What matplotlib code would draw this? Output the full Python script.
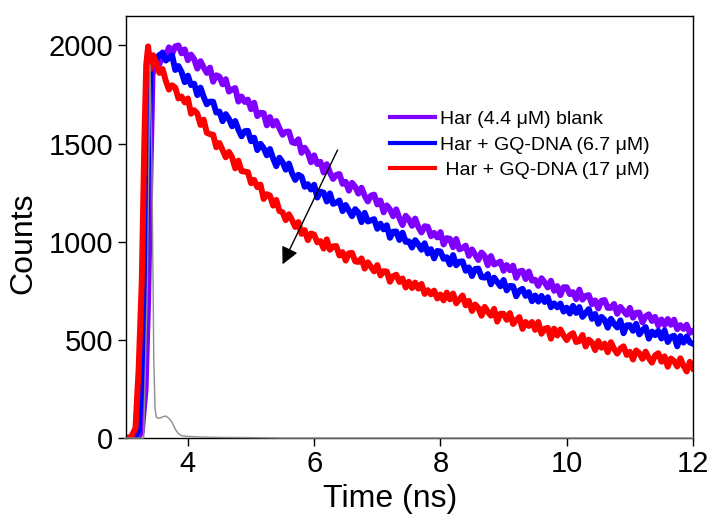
import numpy as np
import matplotlib
matplotlib.use("Agg")
import matplotlib.pyplot as plt

plt.rcParams['font.family'] = ['Liberation Sans', 'DejaVu Sans']

# time grid of the decay part (ns), read every 0.05 ns
t_decay = np.round(np.arange(3.5, 12.001, 0.05), 2)

# rising edges (ns, counts)
t_rise_blank = [3.0, 3.2, 3.27, 3.33, 3.37, 3.41, 3.44, 3.47]
c_rise_blank = [0, 0, 30, 250, 700, 1400, 1850, 1900]
t_rise_67 = [3.0, 3.15, 3.22, 3.28, 3.32, 3.37, 3.41, 3.45]
c_rise_67 = [0, 0, 40, 400, 800, 1400, 1900, 1940]
t_rise_17 = [3.0, 3.1, 3.17, 3.22, 3.27, 3.31, 3.34, 3.37, 3.41, 3.45]
c_rise_17 = [0, 5, 50, 350, 800, 1500, 1900, 1995, 1880, 1950]

# decay counts, 3.50 .. 12.00 ns (one row = 0.5 ns)
c_blank = [1915, 1905, 1965, 1945, 1990, 1957, 1995, 2000, 1960, 1980,
           1925, 1953, 1930, 1882, 1920, 1888, 1860, 1887, 1815, 1848,
           1841, 1802, 1828, 1765, 1776, 1783, 1714, 1740, 1712, 1724,
           1675, 1708, 1640, 1657, 1655, 1593, 1635, 1592, 1615, 1578,
           1545, 1560, 1561, 1507, 1502, 1522, 1453, 1479, 1454, 1405,
           1440, 1396, 1407, 1353, 1395, 1352, 1320, 1340, 1345, 1295,
           1305, 1260, 1300, 1280, 1245, 1275, 1235, 1205, 1235, 1240,
           1190, 1210, 1150, 1185, 1165, 1130, 1165, 1120, 1085, 1132,
           1114, 1081, 1118, 1075, 1047, 1079, 1076, 1028, 1045, 1022,
           1049, 986, 1018, 1015, 972, 1014, 961, 968, 980, 928,
           961, 934, 907, 945, 928, 880, 927, 884, 891, 899,
           852, 881, 855, 878, 816, 849, 852, 810, 848, 802,
           806, 775, 814, 793, 767, 801, 750, 774, 728, 768,
           768, 733, 743, 707, 756, 705, 724, 728, 682, 701,
           660, 699, 703, 663, 663, 683, 633, 668, 648, 628,
           663, 613, 638, 639, 589, 620, 630, 596, 617, 573,
           604, 575, 606, 577, 603, 554, 575, 556, 577, 536,
           545]
c_67 = [1930, 1952, 1960, 1923, 1935, 1950, 1875, 1895, 1865, 1813,
        1846, 1798, 1805, 1747, 1785, 1738, 1700, 1714, 1713, 1658,
        1663, 1614, 1650, 1626, 1588, 1615, 1571, 1537, 1563, 1565,
        1512, 1530, 1467, 1499, 1477, 1440, 1472, 1424, 1385, 1428,
        1405, 1367, 1398, 1349, 1315, 1341, 1332, 1280, 1293, 1266,
        1290, 1225, 1255, 1250, 1205, 1246, 1193, 1199, 1210, 1156,
        1187, 1159, 1130, 1166, 1148, 1100, 1147, 1103, 1109, 1115,
        1066, 1092, 1063, 1084, 1020, 1051, 1052, 1009, 1046, 999,
        1002, 970, 1008, 986, 959, 992, 940, 962, 915, 953,
        950, 913, 921, 884, 932, 880, 898, 900, 852, 869,
        825, 861, 863, 820, 817, 835, 783, 817, 795, 773,
        805, 752, 775, 773, 722, 751, 760, 724, 743, 697,
        726, 695, 724, 693, 717, 666, 686, 666, 685, 644,
        664, 634, 673, 637, 667, 617, 637, 657, 607, 632,
        582, 617, 602, 562, 607, 582, 563, 599, 534, 574,
        575, 546, 582, 528, 549, 565, 506, 542, 524, 546,
        507, 548, 489, 515, 521, 467, 519, 486, 517, 487,
        480]
c_17 = [1910, 1860, 1880, 1820, 1775, 1797, 1785, 1730, 1740, 1710,
        1730, 1652, 1670, 1653, 1595, 1622, 1555, 1548, 1545, 1481,
        1503, 1467, 1430, 1458, 1430, 1374, 1413, 1360, 1357, 1355,
        1298, 1315, 1278, 1291, 1218, 1242, 1235, 1184, 1213, 1156,
        1150, 1110, 1140, 1110, 1075, 1100, 1040, 1059, 1008, 1042,
        1036, 997, 1003, 965, 1012, 959, 976, 978, 930, 947,
        904, 941, 943, 900, 897, 915, 863, 895, 872, 849,
        881, 828, 850, 848, 796, 824, 832, 795, 813, 767,
        796, 764, 792, 761, 785, 734, 753, 732, 751, 711,
        731, 701, 741, 706, 736, 686, 706, 726, 676, 699,
        647, 680, 663, 623, 668, 643, 623, 658, 593, 633,
        633, 602, 636, 581, 601, 616, 556, 591, 571, 591,
        551, 591, 531, 556, 561, 506, 557, 522, 553, 523,
        499, 524, 534, 489, 494, 525, 466, 501, 487, 448,
        494, 460, 481, 437, 488, 454, 430, 456, 467, 423,
        439, 400, 446, 432, 403, 440, 407, 384, 421, 432,
        389, 416, 363, 405, 392, 364, 406, 368, 339, 388,
        355]

# instrument response (grey)
t_irf = [3.0, 3.3, 3.36, 3.40, 3.43, 3.46, 3.48, 3.5, 3.55, 3.6, 3.65,
         3.7, 3.75, 3.8, 3.85, 3.9, 4.0, 4.2, 4.5, 5.0, 5.5, 12.0]
c_irf = [0, 0, 800, 1900, 1400, 400, 150, 105, 100, 108, 112,
         100, 80, 45, 22, 12, 8, 5, 3, 2, 0, 0]

labels = ['Har (4.4 \u03bcM) blank', 'Har + GQ-DNA (6.7 \u03bcM)', ' Har + GQ-DNA (17 \u03bcM)']
colors = ['#8000ff', '#0000ff', '#ff0000']

fig = plt.figure(figsize=(7.11, 5.17), dpi=100)
ax = fig.add_axes([126 / 711, 1 - 438 / 517, 567 / 711, 422 / 517])

series = [(t_rise_blank, c_rise_blank, c_blank),
          (t_rise_67, c_rise_67, c_67),
          (t_rise_17, c_rise_17, c_17)]
for (tr, cr, cd), lab, col in zip(series, labels, colors):
    t = np.concatenate([tr, t_decay])
    c = np.concatenate([cr, cd])
    ax.plot(t, c, color=col, lw=4.3, label=lab, solid_joinstyle='round', zorder=2)

ax.plot(t_irf, c_irf, color='#8c8c8c', lw=1.0, zorder=3, clip_on=False)

ax.annotate('', xy=(5.48, 872), xytext=(6.39, 1480),
            arrowprops=dict(arrowstyle='-|>', color='black', lw=1.0, mutation_scale=26))

ax.set_xlim(3.02, 12)
ax.set_ylim(0, 2150)
ax.set_xticks([4, 6, 8, 10, 12])
ax.set_yticks([0, 500, 1000, 1500, 2000])
ax.tick_params(direction='out', length=6, width=1, labelsize=21, pad=3,
               top=False, right=False)
for s in ax.spines.values():
    s.set_linewidth(1.0)

ax.set_xlabel('Time (ns)', fontsize=23)
ax.set_ylabel('Counts', fontsize=23)
ax.xaxis.set_label_coords(0.466, -0.108)
ax.yaxis.set_label_coords(-0.155, 0.461)

leg = ax.legend(loc='upper left', bbox_to_anchor=(0.466, 0.776), frameon=False,
                fontsize=14, handlelength=2.3, handletextpad=0.26,
                labelspacing=0.4, borderpad=0, borderaxespad=0)
for h in leg.get_lines():
    h.set_linewidth(3)

fig.savefig('out.png', dpi=100)
